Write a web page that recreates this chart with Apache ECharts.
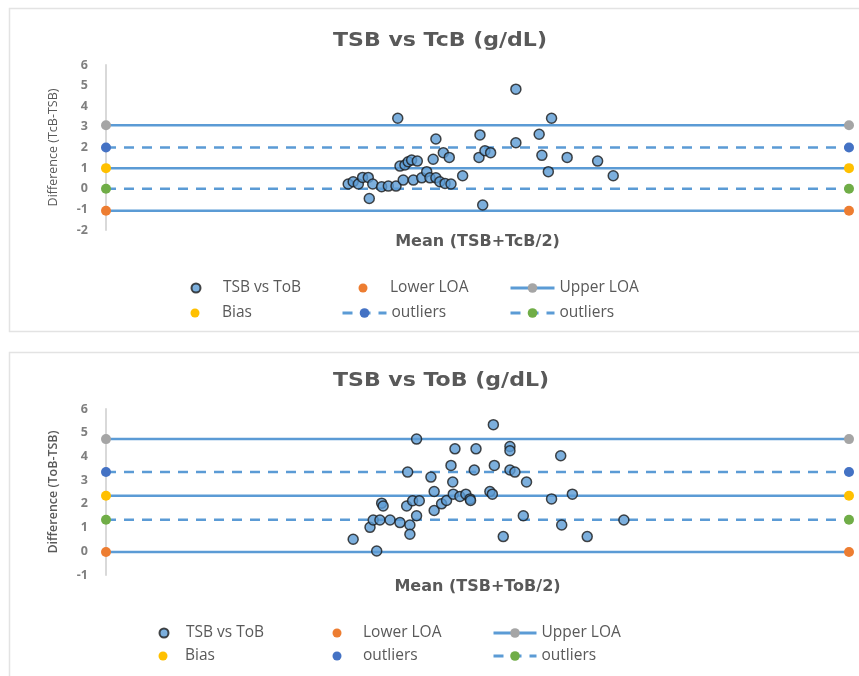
<!DOCTYPE html>
<html><head><meta charset="utf-8">
<script src="https://cdn.jsdelivr.net/npm/echarts@6/dist/echarts.min.js"></script>
<style>html,body{margin:0;padding:0;background:#fff}#c{width:859px;height:676px}</style>
</head><body><div id="c"></div>
<script>
// Top chart: TSB vs TcB
const tcbMean = [9.78,9.98,10.19,10.36,10.59,10.63,10.77,11.13,11.40,11.71,11.78,11.87,12.07,12.20,12.34,12.57,12.00,12.41,12.75,12.95,13.08,13.32,13.48,13.69,13.93,13.21,13.32,13.62,13.86,14.40,15.10,15.06,15.30,15.53,15.21,16.55,16.55,17.49,17.60,17.99,17.86,18.62,19.85,20.48];
const tcbDiff = [0.23,0.34,0.23,0.55,0.55,-0.47,0.23,0.10,0.13,0.13,3.42,1.10,1.15,1.31,1.39,1.34,0.42,0.42,0.53,0.83,0.53,0.53,0.34,0.26,0.23,1.43,2.41,1.75,1.52,0.63,2.61,1.52,1.84,1.75,-0.79,4.83,2.23,2.64,1.62,3.42,0.83,1.52,1.34,0.63];
// Bottom chart: TSB vs ToB
const tobMean = [9.98,10.66,10.93,10.79,11.06,11.47,11.87,12.27,12.27,11.13,11.19,12.14,12.38,12.65,12.54,12.18,12.54,13.12,13.25,13.25,13.55,13.75,13.93,14.00,14.02,14.09,14.29,14.53,14.70,14.72,14.87,14.94,15.50,15.60,15.64,15.68,16.04,16.31,16.31,16.31,16.51,16.98,16.85,17.99,18.36,18.40,18.83,19.43,20.91];
const tobDiff = [0.51,1.01,0.01,1.32,1.32,1.32,1.21,1.11,0.72,2.03,1.91,1.91,2.13,2.13,1.50,3.34,4.73,3.13,2.52,1.72,2.00,2.14,3.62,2.92,2.41,4.32,2.31,2.41,2.21,2.14,3.43,4.32,2.52,2.41,5.34,3.62,0.62,4.42,4.24,3.43,3.34,2.92,1.50,2.21,4.03,1.11,2.41,0.62,1.32];

const lineNames = ['Upper LOA','outliers','Bias','outliers ','Lower LOA'];
const tcbLineValues = [3.08, 2.0, 1.0, 0.0, -1.07];
const tobLineValues = [4.73, 3.34, 2.34, 1.33, -0.03];
const xRange = [0, 30];
const tcbYRange = [-2, 6];
const tobYRange = [-1, 6];

const lineColors = ['#A5A5A5','#4472C4','#FFC000','#70AD47','#ED7D31'];
const lineTypes = ['solid','dashed','solid','dashed','solid'];
const TXT = '#595959';
const FONT = 'Open Sans';
const BOLDFONT = 'DejaVu Sans';

const chart = echarts.init(document.getElementById('c'), null, {renderer:'canvas'});

function zipPts(xs, ys){ return xs.map((x,i)=>[x, ys[i]]); }

function makeSeries(gi, xs, ys, vals){
  const out = [{
    name:'TSB vs ToB', type:'scatter', xAxisIndex:gi, yAxisIndex:gi,
    data: zipPts(xs, ys), symbol:'circle', symbolSize:10, z:5,
    itemStyle:{color:'#5B9BD5', borderColor:'#1A1A1A', borderWidth:1.5},
    emphasis:{disabled:true}
  }];
  vals.forEach((v,i)=>{
    out.push({
      name: lineNames[i], type:'line', xAxisIndex:gi, yAxisIndex:gi,
      data: [[xRange[0], v],[xRange[1], v]],
      symbol:'circle', symbolSize:10, showSymbol:true, z:3,
      itemStyle:{color: lineColors[i]},
      lineStyle:{color:'#5B9BD5', width:2.5, type: lineTypes[i]==='dashed'?[10,8]:'solid'},
      emphasis:{disabled:true}, animation:false
    });
  });
  return out;
}

function axisPair(gi, yr, yName, xName, yBold){
  return {
    x: {
      gridIndex:gi, type:'value', min:xRange[0], max:xRange[1],
      axisLine:{show:false}, axisTick:{show:false}, axisLabel:{show:false}, splitLine:{show:false},
      name:xName, nameLocation:'middle', nameGap:4,
      nameTextStyle:{color:TXT, fontFamily:BOLDFONT, fontSize:16, fontWeight:'bold'}
    },
    y: {
      gridIndex:gi, type:'value', min:yr[0], max:yr[1], interval:1,
      axisLine:{show:true, lineStyle:{color:'#D9D9D9', width:2}},
      axisTick:{show:false}, splitLine:{show:false},
      axisLabel:{color:'#7F7F7F', fontFamily:FONT, fontSize:12.5, fontWeight:'bold', margin:18},
      name:yName, nameLocation:'middle', nameGap:46, nameRotate:90,
      nameTextStyle:{color:TXT, fontFamily:FONT, fontSize:12.5, fontWeight: yBold?'600':'normal'}
    }
  };
}

const a0 = axisPair(0, tcbYRange, 'Difference (TcB-TSB)', 'Mean (TSB+TcB/2)', false);
const a1 = axisPair(1, tobYRange, 'Difference (ToB-TSB)', 'Mean (TSB+ToB/2)', true);

// dot-only items: bounding box starts at the dot, so left = dotCenter - 4.5
function legDot(name, cx, top, iw){
  return {
    data:[{name:name, icon:'circle'}], left:cx-4.5, top:top, padding:0,
    itemWidth:iw, itemHeight:9, selectedMode:false,
    textStyle:{color:TXT, fontFamily:FONT, fontSize:15.5, lineHeight:18}
  };
}
function legLine(name, left, top, iw){
  return {
    data:[name], left:left, top:top, padding:0,
    itemWidth:iw, itemHeight:12, selectedMode:false,
    lineStyle:{width:3},
    textStyle:{color:TXT, fontFamily:FONT, fontSize:15.5, lineHeight:18}
  };
}

const legends = [
  legDot('TSB vs ToB', 195, 279, 44), legDot('Lower LOA', 363, 279, 44), legLine('Upper LOA', 509, 279, 44),
  legDot('Bias', 195, 304, 44), legLine('outliers', 341, 304, 44), legLine('outliers ', 509, 304, 44),
  legDot('TSB vs ToB', 163, 624, 34), legDot('Lower LOA', 337, 624, 42), legLine('Upper LOA', 492, 624, 43),
  legDot('Bias', 163, 647, 34), legDot('outliers', 337, 647, 42), legLine('outliers ', 492, 647, 43)
];

chart.setOption({
  animation:false,
  backgroundColor:'#fff',
  grid:[
    {left:106, top:65, width:743, height:165},
    {left:106, top:409, width:743, height:166}
  ],
  xAxis:[a0.x, a1.x],
  yAxis:[a0.y, a1.y],
  legend: legends,
  series: makeSeries(0, tcbMean, tcbDiff, tcbLineValues).concat(makeSeries(1, tobMean, tobDiff, tobLineValues)),
  graphic:[
    {type:'rect', shape:{x:9.5, y:8.5, width:860, height:323}, style:{fill:'none', stroke:'#E3E3E3', lineWidth:1.5}, silent:true, z:-1},
    {type:'rect', shape:{x:9.5, y:352.5, width:860, height:340}, style:{fill:'none', stroke:'#E3E3E3', lineWidth:1.5}, silent:true, z:-1},
    {type:'text', x:440, y:41, scaleX:1.16, style:{text:'TSB vs TcB (g/dL)', fill:TXT, font:'bold 19px "DejaVu Sans"', textAlign:'center', textVerticalAlign:'middle'}},
    {type:'text', x:441, y:381, scaleX:1.16, style:{text:'TSB vs ToB (g/dL)', fill:TXT, font:'bold 19px "DejaVu Sans"', textAlign:'center', textVerticalAlign:'middle'}}
  ]
});
</script></body></html>
